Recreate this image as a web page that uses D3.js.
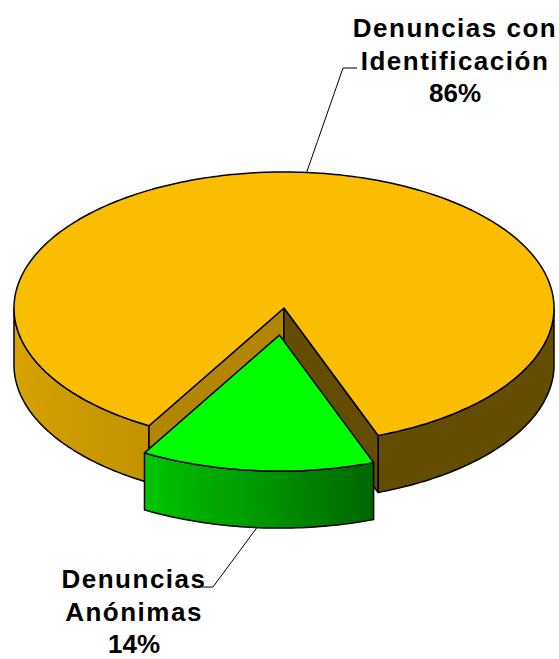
<!DOCTYPE html>
<html>
<head>
<meta charset="utf-8">
<script src="https://cdn.jsdelivr.net/npm/d3@7"></script>
<style>
  body { margin: 0; background: #fff; }
  svg text { font-family: "Liberation Sans", Arial, sans-serif; font-weight: bold; }
</style>
</head>
<body>
<svg id="chart" width="559" height="659"></svg>
<script>
const categories = ["Denuncias con Identificación", "Denuncias Anónimas"];
const values = [86, 14];
const labelLines = [["Denuncias con", "Identificación"], ["Denuncias", "Anónimas"]];
const percentLabels = ["86%", "14%"];
const sliceColors = ["#fbbd00", "#00ff00"];
const exploded = [0, 0.2];

const svg = d3.select("#chart");
const cx = 284, cy = 308, rx = 270, ry = 136, depth = 57;
const deg = Math.PI / 180;

// ellipse projection of the unit circle
const xs = d3.scaleLinear().domain([-1, 1]).range([cx - rx, cx + rx]);
const ys = d3.scaleLinear().domain([-1, 1]).range([cy - ry, cy + ry]);

const pie = d3.pie().sort(null).startAngle(210 * deg).endAngle(570 * deg);
const arcs = pie(values).map((d, i) => {
    const mid = (d.startAngle + d.endAngle) / 2;
    return { ...d, i, mid,
        ox: exploded[i] * Math.sin(mid),
        oy: -exploded[i] * Math.cos(mid) };
});

function pt(d, a, k, z) {
    return [xs(k * Math.sin(a) + d.ox), ys(-k * Math.cos(a) + d.oy) + z];
}
function arcPts(d, a0, a1, z) {
    const n = Math.max(2, Math.ceil(Math.abs(a1 - a0) / deg));
    return d3.range(n + 1).map(j => pt(d, a0 + (a1 - a0) * j / n, 1, z));
}
const line = d3.line();

// side wall lighting by angle (degrees, front half)
const shade = d3.scaleLinear()
    .domain([90, 160, 185, 211, 270])
    .range([0.40, 0.40, 0.60, 0.78, 0.88])
    .clamp(true);
function tint(c, s) {
    const r = d3.rgb(c);
    return d3.rgb(r.r * s, r.g * s, r.b * s).formatHex();
}
function norm(a) {
    const v = (a / deg) % 360;
    return v < 0 ? v + 360 : v;
}

function frontParts(a0, a1) {
    const parts = [];
    for (let k = -1; k <= 2; k++) {
        const lo = Math.max(a0, Math.PI / 2 + 2 * Math.PI * k);
        const hi = Math.min(a1, 3 * Math.PI / 2 + 2 * Math.PI * k);
        if (hi > lo) parts.push([lo, hi]);
    }
    return parts;
}

const defs = svg.append("defs");
let gid = 0;

const drawOrder = d3.sort(arcs, d => exploded[d.i]);

drawOrder.forEach(d => {
    const g = svg.append("g").attr("class", "slice");
    const base = sliceColors[d.i];

    // outer walls
    frontParts(d.startAngle, d.endAngle).forEach(([lo, hi]) => {
        const id = "wall" + (gid++);
        const xA = pt(d, lo, 1, 0)[0], xB = pt(d, hi, 1, 0)[0];
        const grad = defs.append("linearGradient")
            .attr("id", id)
            .attr("gradientUnits", "userSpaceOnUse")
            .attr("x1", xA).attr("x2", xB).attr("y1", 0).attr("y2", 0);
        d3.range(11).forEach(j => {
            const a = lo + (hi - lo) * j / 10;
            const x = pt(d, a, 1, 0)[0];
            grad.append("stop")
                .attr("offset", Math.abs(xB - xA) < 1e-6 ? 0 : (x - xA) / (xB - xA))
                .attr("stop-color", tint(base, shade(norm(a))));
        });
        const pts = arcPts(d, lo, hi, 0).concat(arcPts(d, hi, lo, depth));
        g.append("path")
            .attr("d", line(pts) + "Z")
            .attr("fill", `url(#${id})`)
            .attr("stroke", "#000")
            .attr("stroke-width", 1.5)
            .attr("stroke-linejoin", "round");
    });

    // radial cut faces
    const faces = [];
    if (Math.sin(d.startAngle) < 0) faces.push([d.startAngle, 0.71]);
    if (Math.sin(d.endAngle) > 0) faces.push([d.endAngle, 0.40]);
    faces.forEach(([a, s]) => {
        const c0 = pt(d, a, 0, 0), r0 = pt(d, a, 1, 0);
        const r1 = pt(d, a, 1, depth), c1 = pt(d, a, 0, depth);
        g.append("path")
            .attr("d", line([c0, r0, r1, c1]) + "Z")
            .attr("fill", tint(base, s))
            .attr("stroke", "#000")
            .attr("stroke-width", 1.5)
            .attr("stroke-linejoin", "round");
    });

    // top face
    const top = [pt(d, 0, 0, 0)].concat(arcPts(d, d.startAngle, d.endAngle, 0));
    g.append("path")
        .attr("d", line(top) + "Z")
        .attr("fill", base)
        .attr("stroke", "#000")
        .attr("stroke-width", 1.5)
        .attr("stroke-linejoin", "round");
});

// labels and leader lines
const labelPos = [[455, 37], [134, 588]];
const leaderEnds = [[[343, 68], [357, 68]], [[213, 587], [202, 587]]];
const lineHeight = 32.5;

arcs.forEach(d => {
    const anchor = Math.cos(d.mid) > 0
        ? pt(d, d.mid, 1, 0)
        : pt(d, d.mid, 1, depth);
    svg.append("path")
        .attr("d", line([anchor, ...leaderEnds[d.i]]))
        .attr("fill", "none")
        .attr("stroke", "#000")
        .attr("stroke-width", 1);

    const lines = [...labelLines[d.i], percentLabels[d.i]];
    const t = svg.append("text")
        .attr("text-anchor", "middle")
        .attr("font-size", 26)
        .attr("fill", "#000");
    lines.forEach((s, j) => {
        t.append("tspan")
            .attr("x", labelPos[d.i][0])
            .attr("y", labelPos[d.i][1] + j * lineHeight)
            .attr("letter-spacing", j < 2 ? 1.5 : 0)
            .text(s);
    });
});
</script>
</body>
</html>
